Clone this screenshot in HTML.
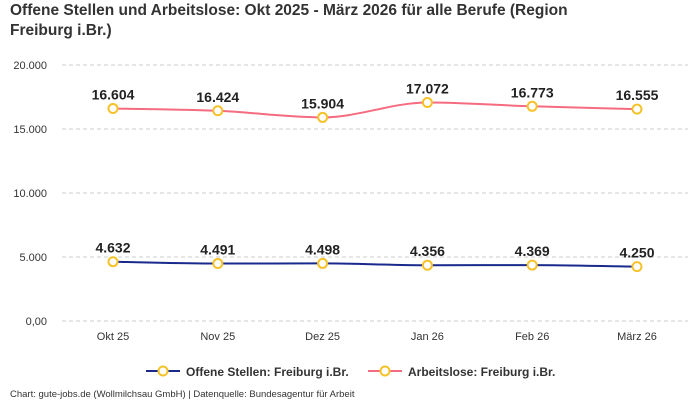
<!DOCTYPE html>
<html><head><meta charset="utf-8"><style>
body{margin:0;background:#fff;font-family:"Liberation Sans",sans-serif;}
#wrap{position:relative;width:700px;height:400px;overflow:hidden;}
</style></head><body>
<div id="wrap">
<svg id="svg" width="700" height="400" xmlns="http://www.w3.org/2000/svg">
<text x="10" y="15" font-size="15.5" font-weight="bold" fill="#333">Offene Stellen und Arbeitslose: Okt 2025 - März 2026 für alle Berufe (Region</text>
<text x="10" y="35" font-size="15.5" font-weight="bold" fill="#333">Freiburg i.Br.)</text>
<g id="grid"></g><g id="xlab"></g><g id="series"></g>
<g>
<g>
<line x1="146" y1="371" x2="180" y2="371" stroke="#1a2a8c" stroke-width="2"/>
<circle cx="163" cy="371" r="4.5" fill="#fff" stroke="#f5c22a" stroke-width="2"/>
<text x="186" y="376" font-size="12" font-weight="bold" fill="#333">Offene Stellen: Freiburg i.Br.</text></g>
<g>
<line x1="368" y1="371" x2="402" y2="371" stroke="#f56b80" stroke-width="2"/>
<circle cx="385" cy="371" r="4.5" fill="#fff" stroke="#f5c22a" stroke-width="2"/>
<text x="408" y="376" font-size="12" font-weight="bold" fill="#333">Arbeitslose: Freiburg i.Br.</text></g>
</g>
<text x="10" y="397" font-size="9.5" fill="#333">Chart: gute-jobs.de (Wollmilchsau GmbH) | Datenquelle: Bundesagentur für Arbeit</text>
</svg></div>
<script>
const categories=["Okt 25","Nov 25","Dez 25","Jan 26","Feb 26","März 26"];
const offeneStellen=[4632,4491,4498,4356,4369,4250];
const arbeitslose=[16604,16424,15904,17072,16773,16555];
const yTicks=[0,5000,10000,15000,20000];
const yTickLabels=["0,00","5.000","10.000","15.000","20.000"];
const NS="http://www.w3.org/2000/svg";
const x0=113,dx=104.8,yBase=321,pxPer=64/5000;
const X=i=>x0+i*dx, Y=v=>yBase-v*pxPer;
function el(t,a,p){const e=document.createElementNS(NS,t);for(const k in a)e.setAttribute(k,a[k]);p.appendChild(e);return e;}
const fmt=v=>String(v).replace(/\B(?=(\d{3})+(?!\d))/g,".");
const grid=document.getElementById('grid');
yTicks.forEach((t,i)=>{
 const l=el('line',{x1:62,x2:688,y1:Y(t),y2:Y(t),stroke:'#ccc','stroke-dasharray':'4,3'},grid);
 
 
 const tx=el('text',{x:47,y:Y(t)+4,'text-anchor':'end','font-size':11,fill:'#333'},grid);
 tx.textContent=yTickLabels[i];
 
 
});
const xl=document.getElementById('xlab');
categories.forEach((c,i)=>{
 const tx=el('text',{x:X(i),y:340,'text-anchor':'middle','font-size':11,fill:'#333'},xl);
 tx.textContent=c;
 
 
});
function smooth(pts){
 // monotone-x cubic
 const n=pts.length,d=[],m=[];
 for(let i=0;i<n-1;i++)d.push((pts[i+1][1]-pts[i][1])/(pts[i+1][0]-pts[i][0]));
 for(let i=0;i<n;i++){
  if(i==0)m.push(d[0]);else if(i==n-1)m.push(d[n-2]);
  else m.push(d[i-1]*d[i]<=0?0:(d[i-1]+d[i])/2);
 }
 let s=`M${pts[0][0]},${pts[0][1]}`;
 for(let i=0;i<n-1;i++){const h=(pts[i+1][0]-pts[i][0])/3;
  s+=` C${pts[i][0]+h},${pts[i][1]+m[i]*h} ${pts[i+1][0]-h},${pts[i+1][1]-m[i+1]*h} ${pts[i+1][0]},${pts[i+1][1]}`;}
 return s;
}
const sg=document.getElementById('series');
[[offeneStellen,'#1a2a8c','offene-stellen'],[arbeitslose,'#f56b80','arbeitslose']].forEach(([vals,col,nm])=>{
 const pts=vals.map((v,i)=>[X(i),Y(v)]);
 const p=el('path',{d:smooth(pts),fill:'none',stroke:col,'stroke-width':2},sg);
 
 
 vals.forEach((v,i)=>{
  const c=el('circle',{cx:X(i),cy:Y(v),r:4.5,fill:'#fff',stroke:'#f5c22a','stroke-width':2},sg);
  
  
  const t=el('text',{x:X(i),y:Y(v)-9,'text-anchor':'middle','font-size':14,'font-weight':'bold',fill:'#222'},sg);
  t.textContent=fmt(v);
  
  
 });
});
</script>
</body></html>
